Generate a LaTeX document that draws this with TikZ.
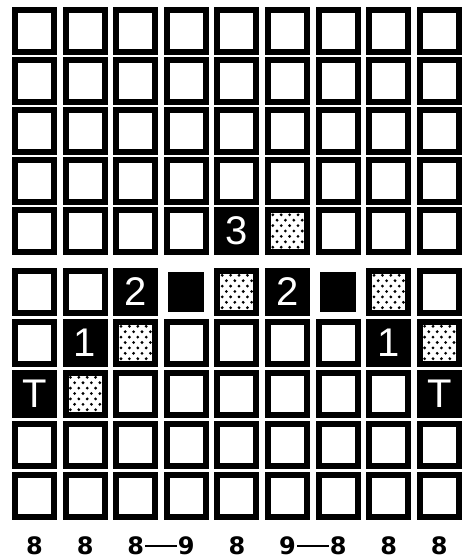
\documentclass[tikz,border=0pt]{standalone}
\usepackage{fontspec}
\newfontfamily\numfont{Liberation Sans}
\newfontfamily\labfont{DejaVu Sans}
\newcommand\cellat[2]{({34.5+(#2-1)*50.6},{(#1<6) ? (31+(#1-1)*50) : (291.5+(#1-6)*51)})}
\newcommand\markspecial[2]{\expandafter\def\csname sp-#1-#2\endcsname{1}}
\markspecial{5}{5}\markspecial{6}{3}\markspecial{6}{6}\markspecial{7}{2}
\markspecial{7}{8}\markspecial{8}{1}\markspecial{8}{9}
\markspecial{5}{6}\markspecial{6}{5}\markspecial{6}{8}\markspecial{7}{3}
\markspecial{7}{9}\markspecial{8}{2}\markspecial{6}{4}\markspecial{6}{7}
\tikzset{
  cell/.style={draw=black, line width=6pt, fill=white, minimum width=39pt,
    minimum height=42pt, inner sep=0pt, outer sep=0pt},
  numcell/.style={cell, fill=black, text=white,
    font=\numfont\fontsize{40}{40}\selectfont},
  dotcell/.style={cell, path picture={
    \foreach \i in {-3,...,3}{\foreach \j in {0,...,8}{
      \fill[black, shift={(path picture bounding box.center)}]
        ({(\i+0.5*mod(\j,2)-0.25)*8.4},{(\j-4)*5.4}) circle (1.55);}}}},
  solidsq/.style={draw=none, fill=black, minimum width=36pt,
    minimum height=40pt, inner sep=0pt},
  lab/.style={font=\labfont\bfseries\fontsize{24}{24}\selectfont, inner sep=1pt},
  link/.style={line width=2.2pt}
}
\begin{document}
\begin{tikzpicture}[x=1pt,y=-1pt]
\useasboundingbox[fill=white] (0,0) rectangle (464,559);
\foreach \r in {1,...,10}{\foreach \c in {1,...,9}{
  \ifcsname sp-\r-\c\endcsname\else
    \node[cell] (c-\r-\c) at \cellat{\r}{\c} {};
  \fi}}
\node[numcell] (c-5-5) at \cellat{5}{5} {3};
\node[numcell] (c-6-3) at \cellat{6}{3} {2};
\node[numcell] (c-6-6) at \cellat{6}{6} {2};
\node[numcell] (c-7-2) at \cellat{7}{2} {1};
\node[numcell] (c-7-8) at \cellat{7}{8} {1};
\node[numcell] (c-8-1) at \cellat{8}{1} {T};
\node[numcell] (c-8-9) at \cellat{8}{9} {T};
\node[dotcell] (c-5-6) at \cellat{5}{6} {};
\node[dotcell] (c-6-5) at \cellat{6}{5} {};
\node[dotcell] (c-6-8) at \cellat{6}{8} {};
\node[dotcell] (c-7-3) at \cellat{7}{3} {};
\node[dotcell] (c-7-9) at \cellat{7}{9} {};
\node[dotcell] (c-8-2) at \cellat{8}{2} {};
\node[solidsq] (c-6-4) at \cellat{6}{4} {};
\node[solidsq] (c-6-7) at \cellat{6}{7} {};
\foreach \c/\t in {1/8,2/8,3/8,4/9,5/8,6/9,7/8,8/8,9/8}{
  \node[lab] (l-\c) at ({34.5+(\c-1)*50.6},546) {\t};}
\draw[link] (l-3) -- (l-4);
\draw[link] (l-6) -- (l-7);
\end{tikzpicture}
\end{document}
